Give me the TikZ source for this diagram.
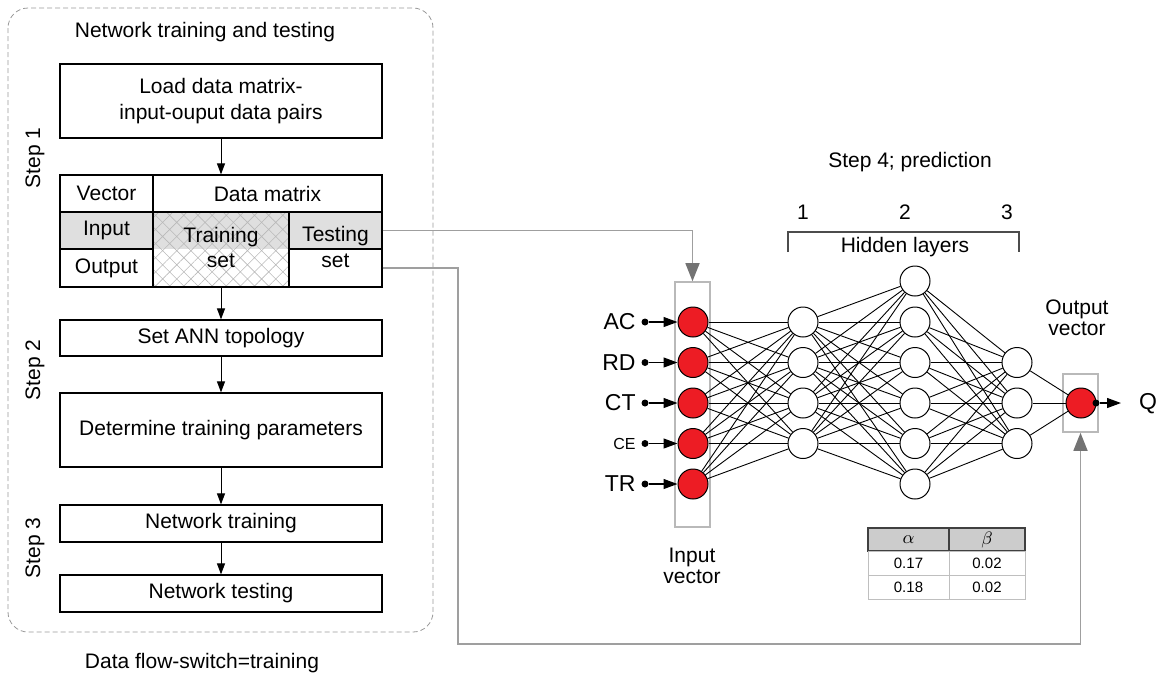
\documentclass[tikz,border=0pt]{standalone}
\usepackage{fontspec}
\setmainfont{Liberation Sans}
\usetikzlibrary{arrows.meta,patterns.meta}
\definecolor{annred}{HTML}{ED1C24}

\begin{document}
\begin{tikzpicture}[x=0.5pt,y=-0.5pt,
  every node/.style={font=\fontsize{10.5}{13}\selectfont, inner sep=0pt},
  box/.style={draw, line width=0.6pt, minimum width=161pt, align=center},
  cell/.style={draw, line width=0.6pt, minimum width=46.5pt},
  flow/.style={line width=0.5pt, -{Triangle[length=5.5pt,width=4pt]}},
  feed/.style={draw=gray!75, line width=0.8pt, -{Triangle[length=9pt,width=7pt,color=black!55]}},
  inarrow/.style={line width=0.6pt, -{Triangle[length=7pt,width=5pt]}},
  dot/.style={circle, fill, minimum size=3.5pt},
  neuron/.style={circle, draw, line width=0.5pt, minimum size=15pt, fill=white},
  link/.style={line width=0.45pt},
  vecbox/.style={draw=gray!55, line width=0.8pt, minimum width=17.5pt},
  hcell/.style={draw=black!75, line width=0.8pt, fill=gray!40, minimum height=11.5pt,
    font=\fontsize{9}{10}\selectfont},
  dcell/.style={draw=gray!50, line width=0.5pt, minimum height=12pt,
    font=\fontsize{7.5}{9}\selectfont}]
\useasboundingbox (0,0) rectangle (1158,682);

% training and testing panel
\draw[draw=gray!80, dash pattern=on 2.5pt off 1.5pt, rounded corners=10pt] (8,8) rectangle (433,632);
\node (title) at (205,32) {Network training and testing};
\node[box, minimum height=37pt] (load) at (221,101) {Load data matrix-\\input-ouput data pairs};

% data matrix
\fill[gray!25] (153,212) rectangle (289,249);
\pattern[pattern={Hatch[angle=45,distance=5pt,line width=0.3pt]}, pattern color=gray!55] (153,212) rectangle (289,287);
\node[cell, minimum height=18.5pt] (vec) at (106.5,193.5) {Vector};
\node[cell, minimum height=18.5pt, minimum width=114.5pt] (datam) at (267.5,193.5) {Data matrix};
\node[cell, minimum height=18.5pt, fill=gray!25] (inp) at (106.5,230.5) {Input};
\node[cell, minimum height=19pt] (outp) at (106.5,268) {Output};
\node[draw, line width=0.6pt, minimum width=68pt, minimum height=37.5pt] (trainset) at (221,249.5) {};
\node[cell, minimum height=18.5pt, fill=gray!25] (testing) at (335.5,230.5) {};
\node[cell, minimum height=19pt] (testset) at (335.5,268) {};
\node (train1) at (221,237) {Training};
\node (train2) at (221,261) {set};
\node (test1) at (335.5,236) {Testing};
\node (test2) at (335.5,261) {set};

\node[box, minimum height=18pt] (ann) at (221,338) {Set ANN topology};
\node[box, minimum height=37pt] (param) at (221,430) {Determine training parameters};
\node[box, minimum height=18.5pt] (ntrain) at (221,523.5) {Network training};
\node[box, minimum height=18.5pt] (ntest) at (221,593.5) {Network testing};

\draw[flow] (load.south) -- (load.south |- datam.north);
\draw[flow] (trainset.south) -- (ann.north);
\draw[flow] (ann) -- (param);
\draw[flow] (param) -- (ntrain);
\draw[flow] (ntrain) -- (ntest);

\node[rotate=90] (step1) at (35,158) {Step 1};
\node[rotate=90] (step2) at (35,370) {Step 2};
\node[rotate=90] (step3) at (35,548) {Step 3};
\node (switch) at (202,663) {Data flow-switch=training};

% network
\node (step4) at (910,162) {Step 4; prediction};
\foreach \i/\x in {1/803,2/905,3/1007}
  \node (num-\i) at (\x,212) {\i};
\draw[black!70, line width=0.6pt] (788,252) -- (788,232) -- (1019,232) -- (1019,252);
\node (hidden) at (905,247) {Hidden layers};

\node[vecbox, minimum height=122.5pt] (inbox) at (692.5,404.5) {};
\node[vecbox, minimum height=29pt] (outbox) at (1080.5,403) {};

\foreach \i/\y/\lab in {1/322/AC,2/362.5/RD,3/403/CT,4/443.5/{\fontsize{8}{9}\selectfont CE},5/484/TR}{
  \node[neuron, fill=annred] (in-\i) at (693,\y) {};
  \node[dot] (dot-\i) at (645,\y) {};
  \node[anchor=east, font=\fontsize{11.5}{13}\selectfont] (lab-\i) at (636,\y) {\lab};
  \draw[inarrow] (dot-\i) -- (in-\i);
}
\foreach \i/\y in {1/322,2/362.5,3/403,4/443.5}
  \node[neuron] (hA-\i) at (803,\y) {};
\foreach \i/\y in {1/281,2/322,3/362.5,4/403,5/443.5,6/484}
  \node[neuron] (hB-\i) at (915,\y) {};
\foreach \i/\y in {1/362.5,2/403,3/443.5}
  \node[neuron] (hC-\i) at (1017,\y) {};
\node[neuron, fill=annred] (out) at (1081,403) {};

\foreach \i in {1,...,5}
  \foreach \j in {1,...,4}
    \draw[link] (in-\i) -- (hA-\j);
\foreach \i in {1,...,4}
  \foreach \j in {1,...,6}
    \draw[link] (hA-\i) -- (hB-\j);
\foreach \i in {1,...,6}
  \foreach \j in {1,...,3}
    \draw[link] (hB-\i) -- (hC-\j);
\foreach \i in {1,...,3}
  \draw[link] (hC-\i) -- (out);

\node[dot] (qdot) at (1096,403) {};
\coordinate (qtip) at (1121,403);
\draw[inarrow] (qdot) -- (qtip);
\node[font=\fontsize{11.5}{13}\selectfont] (q) at (1148,404) {Q};

\node[align=center, font=\fontsize{10.5}{10.5}\selectfont] (invec) at (692,566) {Input\\vector};
\node[align=center, font=\fontsize{10.5}{10.5}\selectfont] (outvec) at (1077,318) {Output\\vector};

% data flow
\draw[feed] (testing.east) -| (inbox.north);
\coordinate (bend) at (458,644);
\draw[feed] (testset.east) -| (bend) -| (outbox.south);

% alpha beta table
\node[hcell, minimum width=40.5pt] (alpha) at (908.5,539.5) {$\alpha$};
\node[hcell, minimum width=38pt] (beta) at (987,539.5) {$\beta$};
\node[dcell, minimum width=40.5pt] (a1) at (908.5,563) {0.17};
\node[dcell, minimum width=38pt] (b1) at (987,563) {0.02};
\node[dcell, minimum width=40.5pt] (a2) at (908.5,587) {0.18};
\node[dcell, minimum width=38pt] (b2) at (987,587) {0.02};
\end{tikzpicture}
\end{document}
